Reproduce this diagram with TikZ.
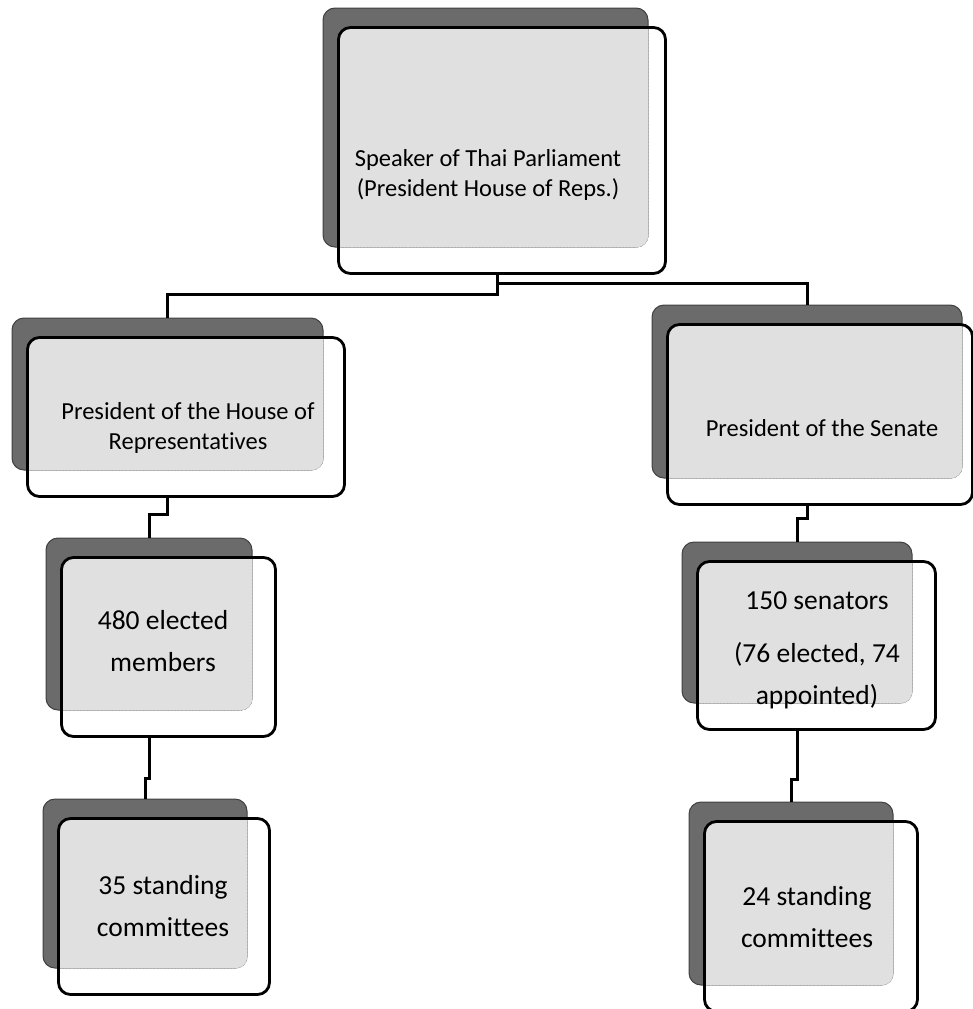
\documentclass[tikz,border=0pt]{standalone}
\usepackage{fontspec}
\setmainfont{Carlito}[Ligatures=NoCommon]
\usetikzlibrary{calc,fit}
\definecolor{darkshade}{gray}{0.42}
\definecolor{paleshade}{gray}{0.88}
\tikzset{
  shadowbox/.style={rectangle,rounded corners=12pt,fill=darkshade,draw=darkshade!60!black,line width=1pt,inner sep=0pt},
  frontbox/.style={rectangle,rounded corners=12pt,draw=black,line width=2.8pt,inner sep=0pt},
  link/.style={draw=black,line width=3pt},
  lbl/.style={align=center,font=\fontsize{24.5}{30}\selectfont},
  biglbl/.style={align=center,font=\fontsize{27.5}{42}\selectfont}
}
\begin{document}
\begin{tikzpicture}[x=1pt,y=-1pt]
  \useasboundingbox (0,0) rectangle (973,1009);

  % boxes: name/centre x/centre y/width/height/right offset of the front box
  \foreach \n/\cx/\cy/\w/\h/\r in {top/485.5/127.5/325/239/17, hor/167.5/394/311/152/21,
      sen/807/391.5/310/173/10, hmem/149/624/206/172/23, smem/797/622.5/230/161/23,
      hcom/145/883.5/204/169/22, scom/791/893.5/204/183/24}{
    \node[shadowbox,minimum width=\w pt,minimum height=\h pt] (\n) at (\cx,\cy) {};
    \coordinate (\n-nw) at ($(\n.north west)+(16pt,-20pt)$);
    \coordinate (\n-se) at ($(\n.south east)+(\r pt,-26pt)$);
    \begin{scope}
      \clip[rounded corners=12pt] (\n-nw) rectangle (\n-se);
      \fill[paleshade,rounded corners=12pt] (\n.north west) rectangle (\n.south east);
      \draw[darkshade,densely dotted,rounded corners=12pt] (\n.north west) rectangle (\n.south east);
    \end{scope}
    \node[frontbox,fit=(\n-nw)(\n-se)] (\n-f) {};
  }

  \node[lbl] (top-t) at (488,175) {Speaker of Thai Parliament\\(President House of Reps.)};
  \node[lbl] (hor-t) at (188,428) {President of the House of\\Representatives};
  \node[lbl] (sen-t) at (822,428) {President of the Senate};
  \node[biglbl] (hmem-t) at (163,641) {480 elected\\members};
  \node[biglbl] (smem-t) at (817,650) {150 senators\\[11pt](76 elected, 74\\appointed)};
  \node[biglbl] (hcom-t) at (163,906) {35 standing\\committees};
  \node[biglbl] (scom-t) at (807,917) {24 standing\\committees};

  % connectors
  \draw[link] ([xshift=-5pt]top-f.south) -- ++(0,-9pt) -| (sen.north);
  \draw[link] ([xshift=-5pt]top-f.south) -- ++(0,-20pt) -| (hor.north);
  \draw[link] (hor.south |- hor-f.south) -- ++(0,-17pt) -| (hmem.north);
  \draw[link] (sen.south |- sen-f.south) -- ++(0,-13pt) -| (smem.north);
  \draw[link] (hmem.south |- hmem-f.south) -- ++(0,-41pt) -| (hcom.north);
  \draw[link] (smem.south |- smem-f.south) -- ++(0,-49pt) -| (scom.north);
\end{tikzpicture}
\end{document}
